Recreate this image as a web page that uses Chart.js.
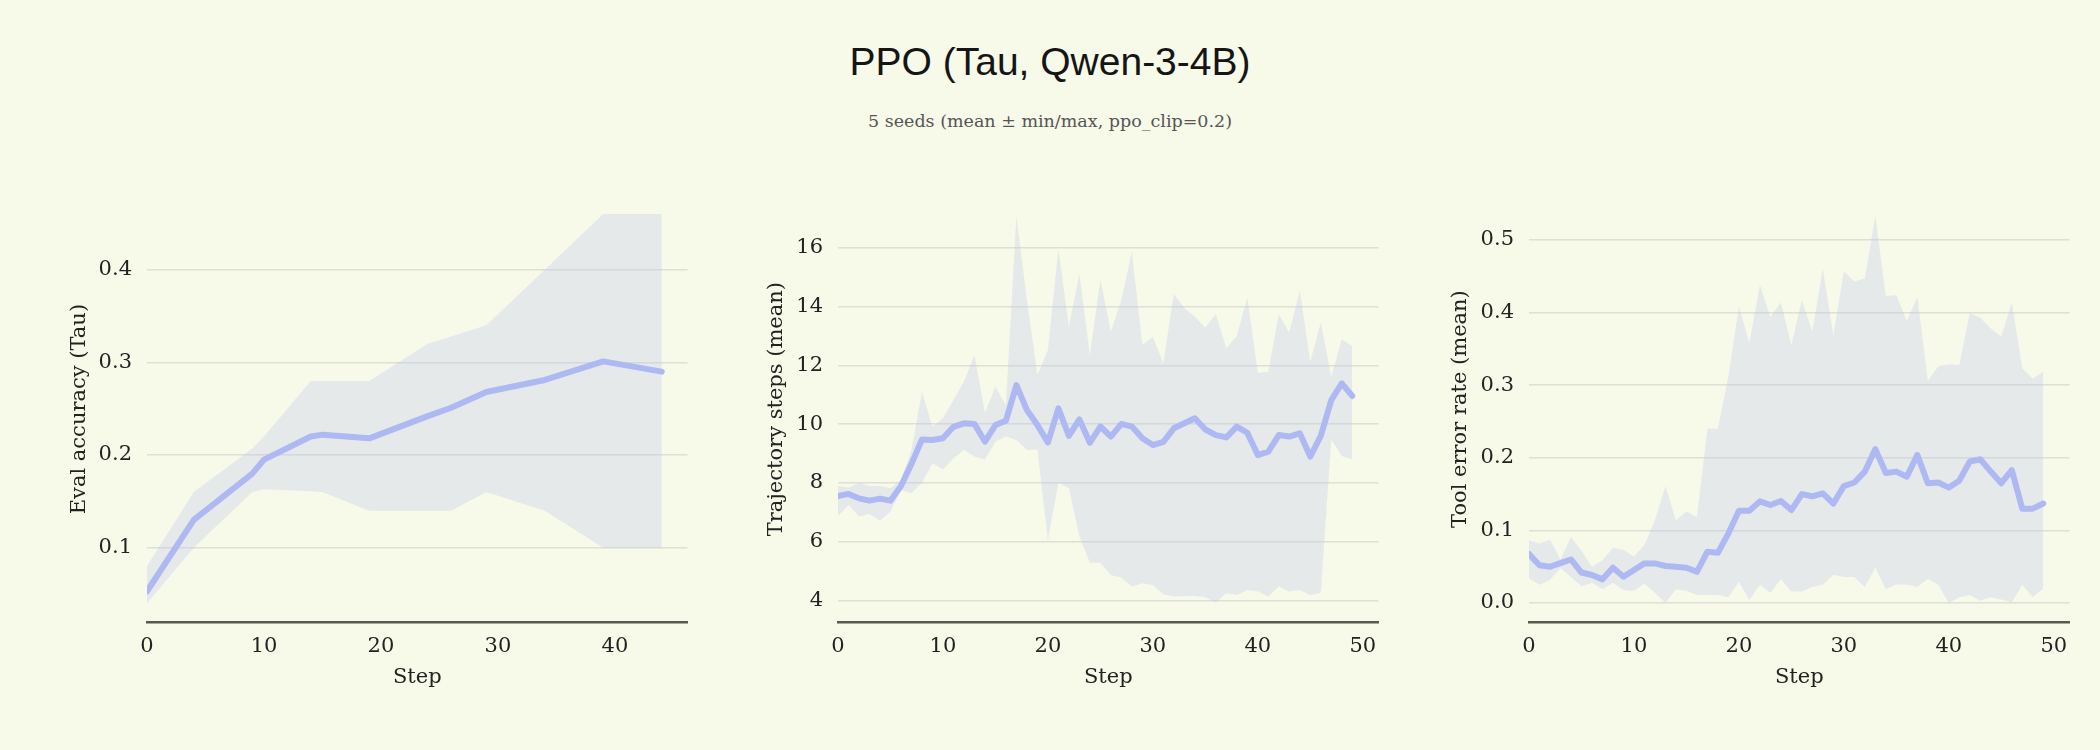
<!DOCTYPE html>
<html>
<head>
<meta charset="utf-8">
<title>PPO (Tau, Qwen-3-4B)</title>
<script src="https://cdn.jsdelivr.net/npm/chart.js@4.4.1/dist/chart.umd.min.js"></script>
<style>
html, body { margin: 0; padding: 0; background: #f7f9e9; }
#page { position: relative; width: 2100px; height: 750px; overflow: hidden; }
#titulo { position: absolute; left: 0; top: 42px; width: 2100px; text-align: center;
  font-family: "Liberation Sans", Arial, sans-serif; font-size: 39px; line-height: 1; color: #151515; }
#sub { position: absolute; left: 0; top: 113px; width: 2100px; text-align: center;
  font-family: "DejaVu Serif", serif; font-size: 17.5px; line-height: 1; color: #555; }
.painel { position: absolute; top: 0; width: 700px; height: 750px; }
</style>
</head>
<body>
<div id="page">
  <div id="titulo">PPO (Tau, Qwen-3-4B)</div>
  <div id="sub">5 seeds (mean ± min/max, ppo_clip=0.2)</div>
  <div class="painel" style="left:0px"><canvas id="c1" width="700" height="750"></canvas></div>
  <div class="painel" style="left:691px"><canvas id="c2" width="700" height="750"></canvas></div>
  <div class="painel" style="left:1382px"><canvas id="c3" width="700" height="750"></canvas></div>
</div>
<script>
// Dados

// Eval accuracy (Tau)
const evalSteps = [0, 4, 9, 10, 14, 15, 19, 24, 26, 29, 34, 39, 44];
const evalMean = [0.053, 0.130, 0.180, 0.195, 0.220, 0.222, 0.218, 0.242, 0.251, 0.268, 0.281, 0.301, 0.290];
const evalMax = [0.08, 0.16, 0.207, 0.22, 0.28, 0.28, 0.28, 0.32, 0.328, 0.34, 0.40, 0.46, 0.46];
const evalMin = [0.04, 0.10, 0.16, 0.163, 0.161, 0.16, 0.14, 0.14, 0.14, 0.16, 0.14, 0.10, 0.10];

// Trajectory steps / tool error rate: passos 0..49
const trainSteps = [0,1,2,3,4,5,6,7,8,9,10,11,12,13,14,15,16,17,18,19,20,21,22,23,24,
  25,26,27,28,29,30,31,32,33,34,35,36,37,38,39,40,41,42,43,44,45,46,47,48,49];

const trajMean = [7.56,7.63,7.48,7.40,7.47,7.40,7.90,8.65,9.48,9.46,9.52,9.91,10.03,10.01,9.41,9.97,10.12,11.33,10.48,9.97,
  9.38,10.54,9.60,10.16,9.37,9.92,9.58,10.01,9.92,9.52,9.29,9.40,9.86,10.03,10.20,9.82,9.63,9.55,9.92,9.71,
  8.95,9.07,9.63,9.58,9.69,8.90,9.60,10.82,11.39,10.96];
const trajMax = [7.90,7.84,8.01,7.90,7.90,7.82,8.10,9.12,11.10,9.91,10.20,10.82,11.44,12.35,10.39,11.27,10.65,17.08,14.22,11.67,
  12.52,15.94,13.31,15.10,12.35,14.90,13.14,14.22,15.86,12.69,12.97,12.07,14.43,13.94,13.65,13.29,13.74,12.58,13.00,14.31,
  11.75,11.78,13.74,13.11,14.54,12.12,13.45,11.61,12.88,12.66];
const trajMin = [6.88,7.25,6.86,6.95,6.72,7.03,7.76,7.65,8.01,8.67,8.46,8.84,9.12,8.90,8.80,9.40,9.58,9.46,9.12,9.14,
  6.06,8.01,7.82,6.18,5.29,5.29,4.87,4.78,4.48,4.59,4.53,4.22,4.14,4.16,4.16,4.12,3.94,4.25,4.19,4.36,
  4.31,4.14,4.48,4.31,4.36,4.19,4.27,9.48,8.92,8.80];

const toolMean = [0.0675,0.052,0.050,0.055,0.060,0.042,0.0386,0.0326,0.0487,0.0363,0.0455,0.0546,0.0546,0.051,0.050,0.0487,0.043,0.0707,0.0693,0.096,
  0.127,0.127,0.140,0.135,0.1405,0.128,0.150,0.147,0.151,0.137,0.161,0.166,0.181,0.212,0.179,0.181,0.174,0.204,0.165,0.166,
  0.159,0.1685,0.195,0.198,0.181,0.165,0.183,0.130,0.130,0.137];
const toolMax = [0.086,0.082,0.087,0.060,0.091,0.072,0.050,0.059,0.076,0.073,0.064,0.080,0.114,0.161,0.114,0.126,0.118,0.240,0.240,0.312,
  0.408,0.358,0.438,0.394,0.414,0.355,0.417,0.374,0.460,0.368,0.457,0.443,0.447,0.533,0.423,0.424,0.388,0.421,0.306,0.326,
  0.329,0.328,0.399,0.393,0.378,0.367,0.414,0.323,0.309,0.319];
const toolMin = [0.034,0.025,0.032,0.048,0.036,0.023,0.028,0.019,0.028,0.018,0.017,0.027,0.014,0.000,0.019,0.017,0.011,0.011,0.011,0.008,
  0.029,0.004,0.025,0.014,0.033,0.016,0.016,0.022,0.025,0.039,0.036,0.036,0.022,0.049,0.019,0.026,0.025,0.0225,0.033,0.025,
  0.000,0.008,0.011,0.003,0.008,0.005,0.001,0.025,0.008,0.020];

// Estilo

const LINE = "#aeb8f2";
const BAND = "rgba(180,188,240,0.25)";
const GRID = "#dfe0d4";
const TEXT = "#222";

Chart.defaults.font.family = "'DejaVu Serif', serif";
Chart.defaults.font.size = 21;
Chart.defaults.color = TEXT;

function painel(id, steps, mean, lo, hi, yTitle, yMin, yMax, yStep, decimals, xMax, titlePad){

const pts = arr => steps.map((s, i) => ({x: s, y: arr[i]}));

new Chart(document.getElementById(id), {
type: "line",
data: {
datasets: [
{
data: pts(mean),
borderColor: LINE,
borderWidth: 6,
borderJoinStyle: "round",
borderCapStyle: "round",
pointRadius: 0,
fill: false,
order: 0
},
{
data: pts(hi),
borderWidth: 0,
borderColor: "rgba(0,0,0,0)",
backgroundColor: BAND,
pointRadius: 0,
fill: "+1",
order: 1
},
{
data: pts(lo),
borderWidth: 0,
borderColor: "rgba(0,0,0,0)",
pointRadius: 0,
fill: false,
order: 2
}
]
},
options: {
responsive: false,
animation: false,
layout: { padding: { top: 195.5, right: 12.5, bottom: 0, left: 0 } },
plugins: { legend: { display: false }, tooltip: { enabled: false } },
scales: {
x: {
type: "linear",
min: 0,
max: xMax,
ticks: { stepSize: 10, includeBounds: false, padding: 11 },
grid: { drawOnChartArea: false, drawTicks: false },
border: { display: true, color: "#575a50", width: 2.5 },
title: { display: true, text: "Step", padding: { top: 0, bottom: 59.7 } },
afterFit: s => { s.height = 127.3; }
},
y: {
min: yMin,
max: yMax,
ticks: { stepSize: yStep, includeBounds: false, padding: 15, callback: v => v.toFixed(decimals) },
grid: { color: GRID, lineWidth: 1.5, drawTicks: false },
border: { display: false },
title: { display: true, text: yTitle, padding: { top: titlePad, bottom: 0 } },
afterFit: s => { s.width = 147; }
}
}
}
});

}

painel("c1", evalSteps, evalMean, evalMin, evalMax, "Eval accuracy (Tau)", 0.0191, 0.480, 0.1, 1, 46.2, 66.7);
painel("c2", trainSteps, trajMean, trajMin, trajMax, "Trajectory steps (mean)", 3.252, 17.774, 2, 0, 51.5, 73.2);
painel("c3", trainSteps, toolMean, toolMin, toolMax, "Tool error rate (mean)", -0.0271, 0.5613, 0.1, 1, 51.5, 65.7);
</script>
</body>
</html>
